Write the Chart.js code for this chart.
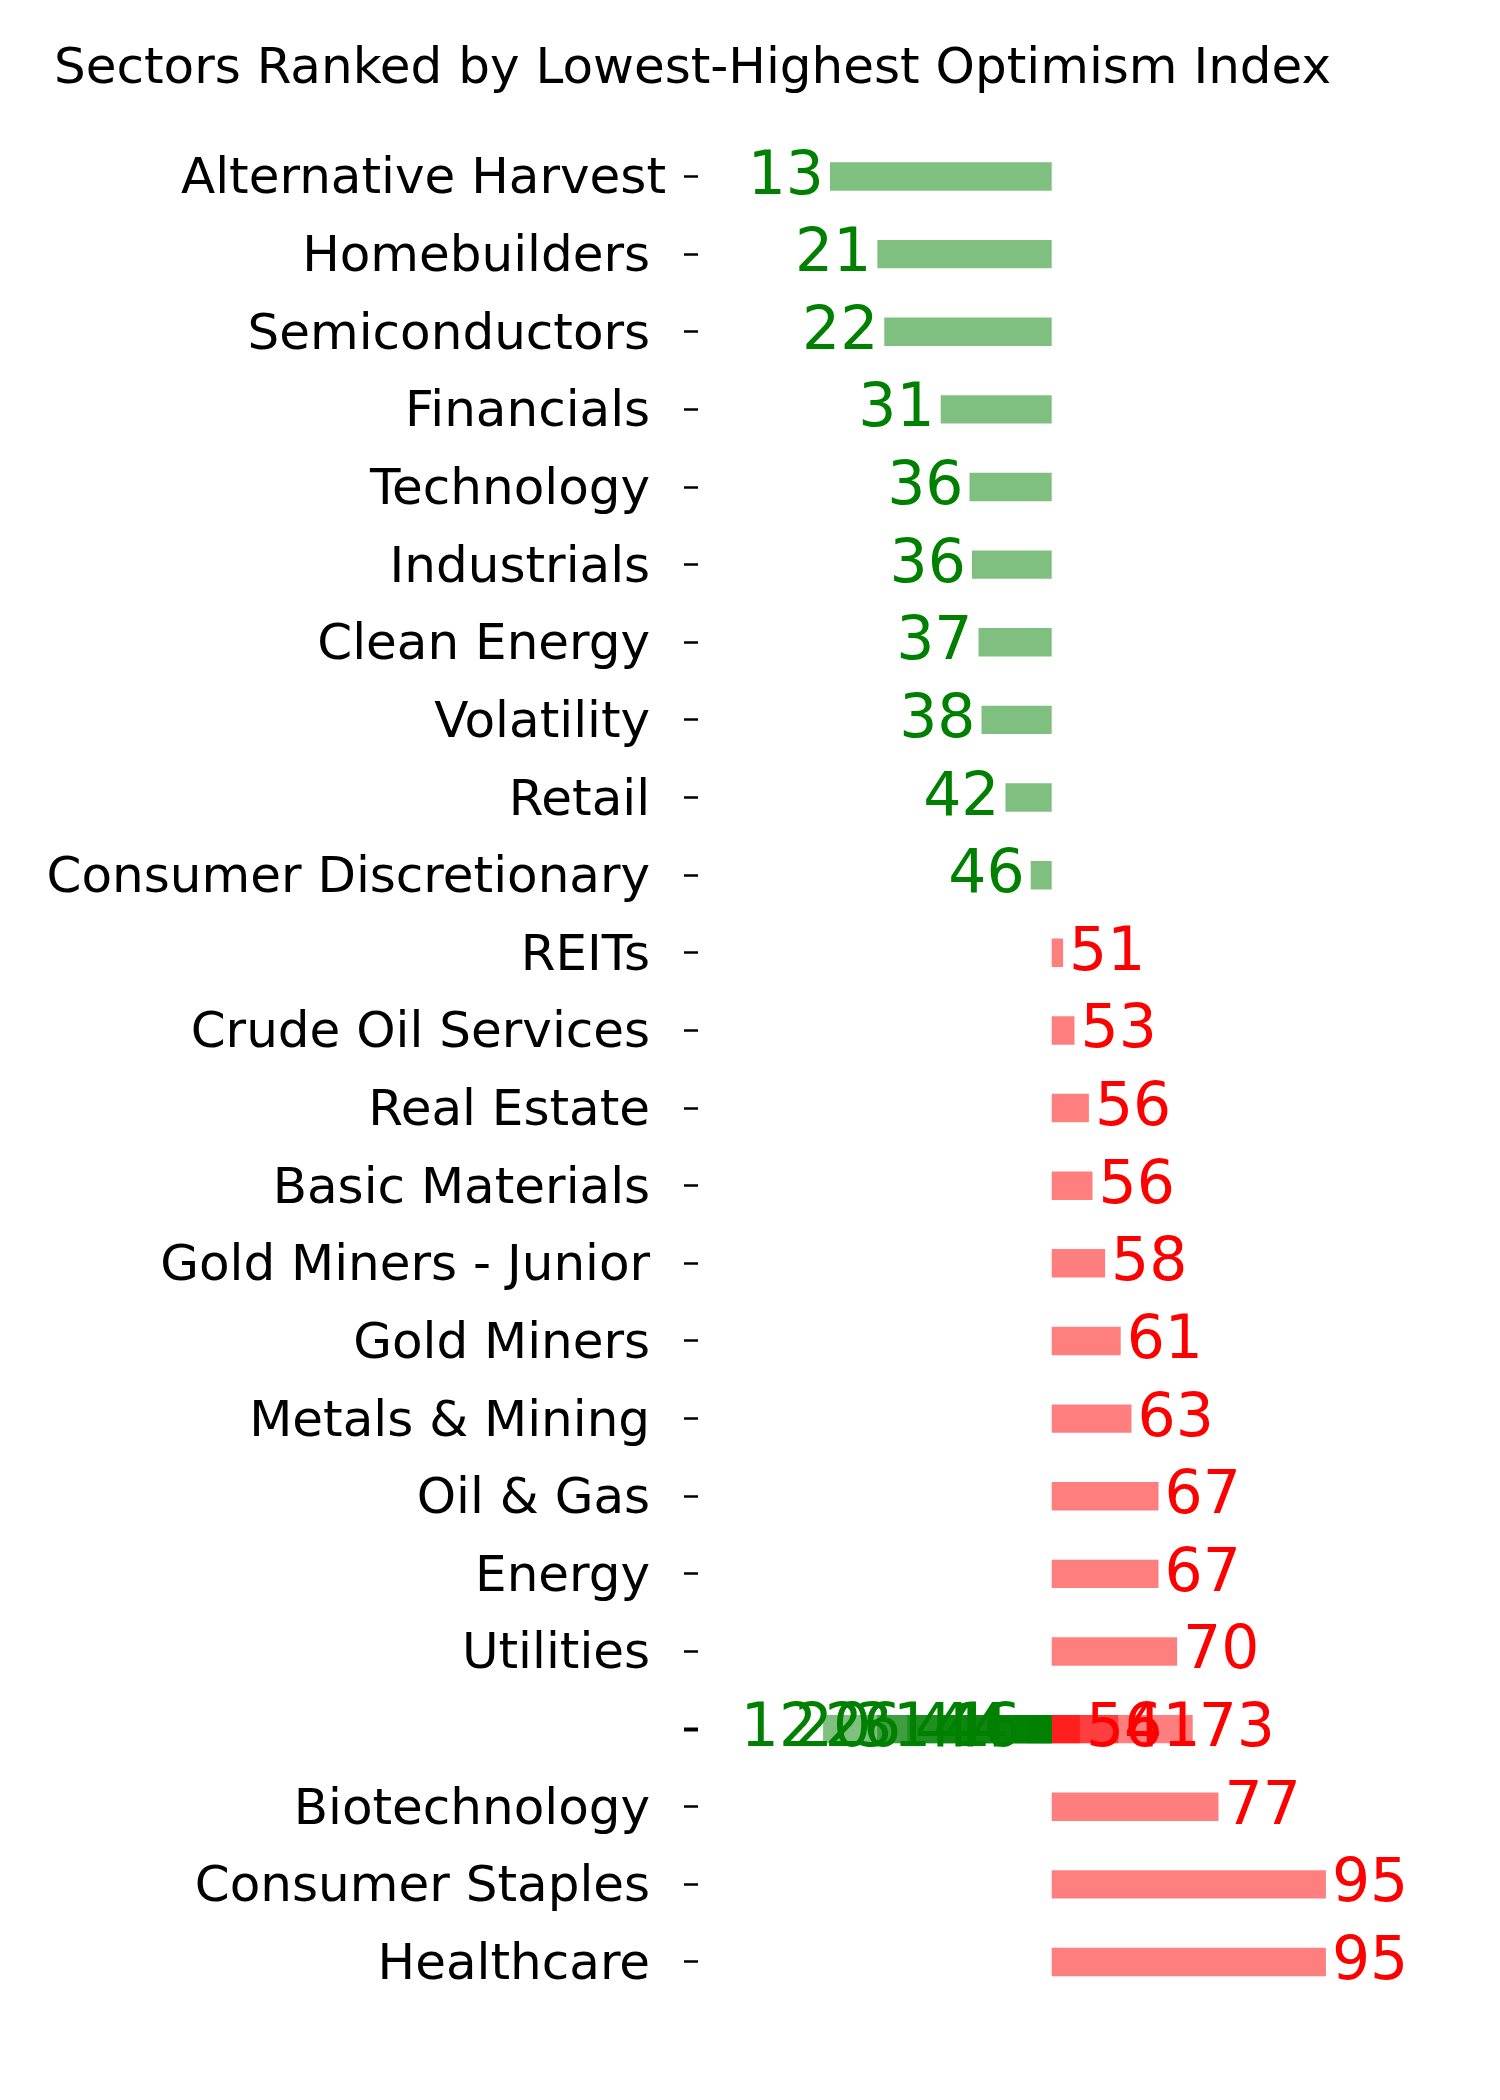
<!DOCTYPE html>
<html>
<head>
<meta charset="utf-8">
<script src="https://cdn.jsdelivr.net/npm/chart.js@4.4.1/dist/chart.umd.min.js"></script>
<style>
  html, body { margin: 0; padding: 0; background: #fff; }
  #wrap { width: 1500px; height: 2100px; }
</style>
</head>
<body>
<div id="wrap"><canvas id="chart" width="1500" height="2100"></canvas></div>
<script>
// Sector names as they show on the axis (top to bottom)
const sectors = [
  "Alternative Harvest", "Homebuilders ", "Semiconductors ", "Financials ",
  "Technology ", "Industrials ", "Clean Energy ", "Volatility ", "Retail ",
  "Consumer Discretionary ", "REITs ", "Crude Oil Services ", "Real Estate ",
  "Basic Materials ", "Gold Miners - Junior ", "Gold Miners ", "Metals & Mining ",
  "Oil & Gas ", "Energy ", "Utilities ", "", "Biotechnology ",
  "Consumer Staples ", "Healthcare ",
];

// optimism index (row 20 is the unnamed row)
const optimism = [
  13.05, 20.95, 22.1, 31.5, 36.3, 36.7, 37.8, 38.3, 42.3, 46.5,
  51.9, 53.8, 56.2, 56.8, 58.9, 61.5, 63.3, 67.8, 67.8, 70.9,
  null, 77.8, 95.7, 95.7,
];
// the number printed next to each bar
const optimismText = [
  13, 21, 22, 31, 36, 36, 37, 38, 42, 46,
  51, 53, 56, 56, 58, 61, 63, 67, 67, 70,
  null, 77, 95, 95,
];

// several bars all share the unnamed row and sit on top of each other
const blankRowIdx = 20;
const blankValues = [11.9, 20.9, 25.9, 30.9, 40.9, 43.9, 45.9, 54.7, 61.1, 73.5];
const blankText = [12, 20, 26, 31, 41, 44, 46, 54, 61, 73];

const MID = 50;
const GREEN = "#008000";
const RED = "#ff0000";
const GREEN_BAR = "rgba(0,128,0,0.5)";
const RED_BAR = "rgba(255,0,0,0.5)";
const FONT = "'DejaVu Sans', 'Noto Sans', sans-serif";

const barColor = (v) => (v < MID ? GREEN_BAR : RED_BAR);

const datasets = [
  {
    data: optimism.map((v) => (v === null ? null : [MID, v])),
    texts: optimismText,
    backgroundColor: optimism.map((v) => barColor(v)),
  },
].concat(
  blankValues.map((v, k) => ({
    data: sectors.map((_, i) => (i === blankRowIdx ? [MID, v] : null)),
    texts: sectors.map((_, i) => (i === blankRowIdx ? blankText[k] : null)),
    backgroundColor: barColor(v),
  })),
);
datasets.forEach((ds) => {
  ds.grouped = false;
  ds.borderWidth = 0;
  ds.categoryPercentage = 1;
  ds.barPercentage = 0.366;
});

// number labels beside every bar
const valueLabels = {
  id: "valueLabels",
  afterDatasetsDraw(chart) {
    const ctx = chart.ctx;
    ctx.save();
    ctx.font = "60px " + FONT;
    ctx.textBaseline = "alphabetic";
    chart.data.datasets.forEach((ds, di) => {
      chart.getDatasetMeta(di).data.forEach((el, i) => {
        const raw = ds.data[i];
        if (!raw) return;
        const v = raw[1];
        const y = el.y + 17;
        if (v < MID) {
          ctx.fillStyle = GREEN;
          ctx.textAlign = "right";
          ctx.fillText(String(ds.texts[i]), Math.min(el.x, el.base) - 6, y);
        } else {
          ctx.fillStyle = RED;
          ctx.textAlign = "left";
          ctx.fillText(String(ds.texts[i]), Math.max(el.x, el.base) + 6, y);
        }
      });
    });
    ctx.restore();
  },
};

const titlePlugin = {
  id: "plainTitle",
  afterDraw(chart) {
    const ctx = chart.ctx;
    ctx.save();
    ctx.font = "50px " + FONT;
    ctx.fillStyle = "#000";
    ctx.textAlign = "left";
    ctx.textBaseline = "alphabetic";
    ctx.fillText("Sectors Ranked by Lowest-Highest Optimism Index", 54, 83);
    ctx.restore();
  },
};

new Chart(document.getElementById("chart"), {
  type: "bar",
  data: { labels: sectors, datasets: datasets },
  options: {
    indexAxis: "y",
    responsive: false,
    animation: false,
    layout: { padding: { top: 137.7, bottom: 99.2, left: 0, right: 148.3 } },
    plugins: { legend: { display: false }, tooltip: { enabled: false } },
    scales: {
      x: { type: "linear", min: -8.95, max: 100, display: false },
      y: {
        type: "category",
        offset: true,
        afterFit: (scale) => {
          scale.width = 698;
        },
        border: { display: false },
        grid: {
          offset: false,
          drawOnChartArea: false,
          drawTicks: true,
          tickLength: 14,
          tickColor: "#000",
          tickWidth: (c) => (c.index === blankRowIdx ? 4 : 2.5),
        },
        ticks: {
          autoSkip: false,
          color: "#000",
          padding: 18,
          labelOffset: 4,
          font: { family: FONT, size: 50 },
        },
      },
    },
  },
  plugins: [valueLabels, titlePlugin],
});
</script>
</body>
</html>
